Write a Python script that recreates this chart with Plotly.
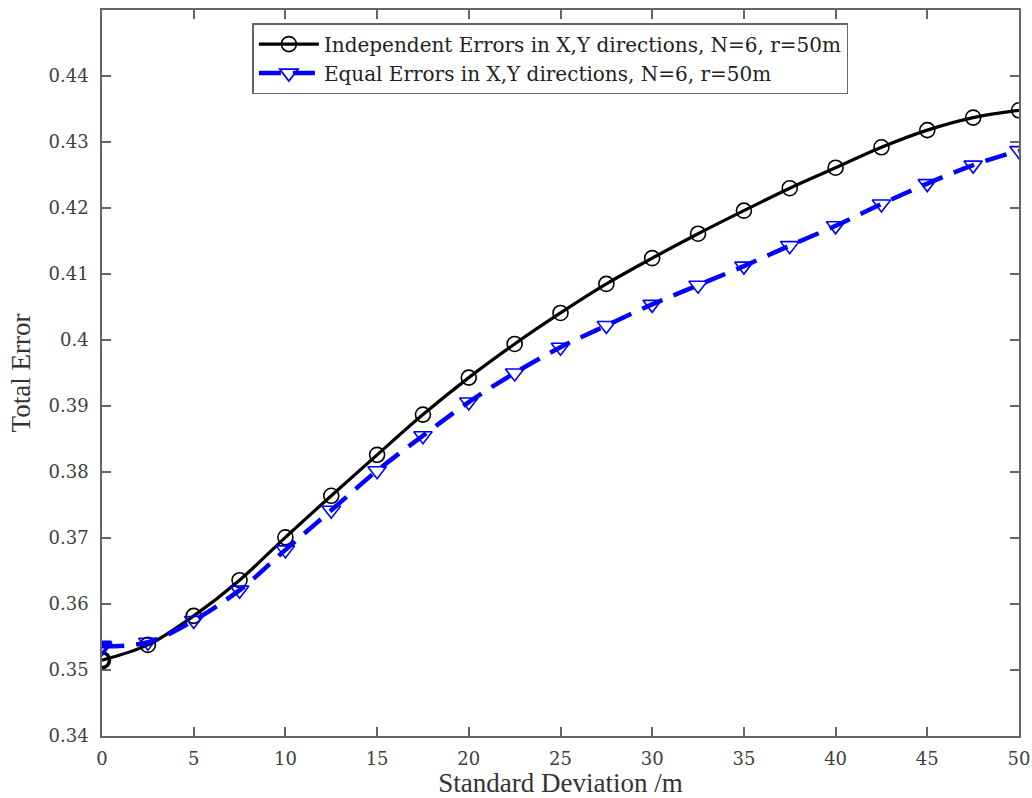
import plotly.graph_objects as go

# ── Dados ───────────────────────────────────────────────────────────
std_dev = [0, 2.5, 5, 7.5, 10, 12.5, 15, 17.5, 20, 22.5, 25,
           27.5, 30, 32.5, 35, 37.5, 40, 42.5, 45, 47.5, 50]

independent_err = [0.3515, 0.3538, 0.3582, 0.3636, 0.3701, 0.3764, 0.3826,
                   0.3887, 0.3943, 0.3994, 0.4041, 0.4085, 0.4124, 0.4161,
                   0.4196, 0.4230, 0.4261, 0.4292, 0.4318, 0.4337, 0.4348]

equal_err = [0.3536, 0.3542, 0.3575, 0.3621, 0.3682, 0.3742, 0.3802,
             0.3855, 0.3906, 0.3950, 0.3989, 0.4022, 0.4054, 0.4083,
             0.4112, 0.4143, 0.4173, 0.4206, 0.4237, 0.4265, 0.4287]

y_ticks = [0.34, 0.35, 0.36, 0.37, 0.38, 0.39, 0.40, 0.41, 0.42, 0.43, 0.44]
y_tick_text = ["0.34", "0.35", "0.36", "0.37", "0.38", "0.39", "0.4",
               "0.41", "0.42", "0.43", "0.44"]
x_ticks = [0, 5, 10, 15, 20, 25, 30, 35, 40, 45, 50]

AXIS_COLOR = "#666666"
TICK_TEXT = "#404040"
TITLE_TEXT = "#333333"
SERIF = "Liberation Serif, serif"
WIDE_SERIF = "DejaVu Serif, serif"

# o primeiro ponto aparece mais carregado no original (marcadores sobrepostos)
first_heavy = [3.5] + [1.6] * (len(std_dev) - 1)

fig = go.Figure()

fig.add_trace(go.Scatter(
    x=std_dev, y=independent_err,
    mode="lines+markers",
    name="Independent Errors in X,Y directions, N=6, r=50m",
    line=dict(color="black", width=3.2, shape="spline"),
    marker=dict(symbol="circle-open", size=15, color="black",
                line=dict(width=first_heavy)),
))

fig.add_trace(go.Scatter(
    x=std_dev, y=equal_err,
    mode="lines+markers",
    name="Equal Errors in X,Y directions, N=6, r=50m",
    line=dict(color="#0000FF", width=4.5, dash="22px,12px", shape="spline"),
    marker=dict(symbol="triangle-down-open", size=16, color="#0000FF",
                line=dict(width=first_heavy)),
))

axis_common = dict(
    showgrid=False,
    zeroline=False,
    showline=True,
    linecolor=AXIS_COLOR,
    linewidth=1.5,
    mirror="ticks",
    ticks="inside",
    ticklen=9,
    tickwidth=1.5,
    tickcolor=AXIS_COLOR,
    tickfont=dict(family=WIDE_SERIF, size=18, color=TICK_TEXT),
)

fig.update_xaxes(
    range=[0, 50],
    tickvals=x_ticks,
    ticklabelstandoff=6,
    title=dict(text="Standard Deviation /m", standoff=4,
               font=dict(family=SERIF, size=27, color=TITLE_TEXT)),
    **axis_common,
)
fig.update_yaxes(
    range=[0.34, 0.45],
    tickvals=y_ticks,
    ticktext=y_tick_text,
    ticklabelstandoff=8,
    title=dict(text="Total Error", standoff=10,
               font=dict(family=SERIF, size=27, color=TITLE_TEXT)),
    **axis_common,
)

fig.update_layout(
    width=1032,
    height=798,
    paper_bgcolor="white",
    plot_bgcolor="white",
    margin=dict(l=102, r=13, t=10, b=62, autoexpand=False),
    showlegend=True,
    legend=dict(
        x=0.164, y=0.982, xanchor="left", yanchor="top",
        bgcolor="white",
        bordercolor=AXIS_COLOR,
        borderwidth=1.5,
        font=dict(family=WIDE_SERIF, size=20, color="#222222"),
        tracegroupgap=0,
        itemwidth=60,
    ),
)

fig.write_html(
    "out.html",
    config={"displayModeBar": False},
    post_script="document.body.style.margin='0';document.body.style.overflow='hidden';",
)
